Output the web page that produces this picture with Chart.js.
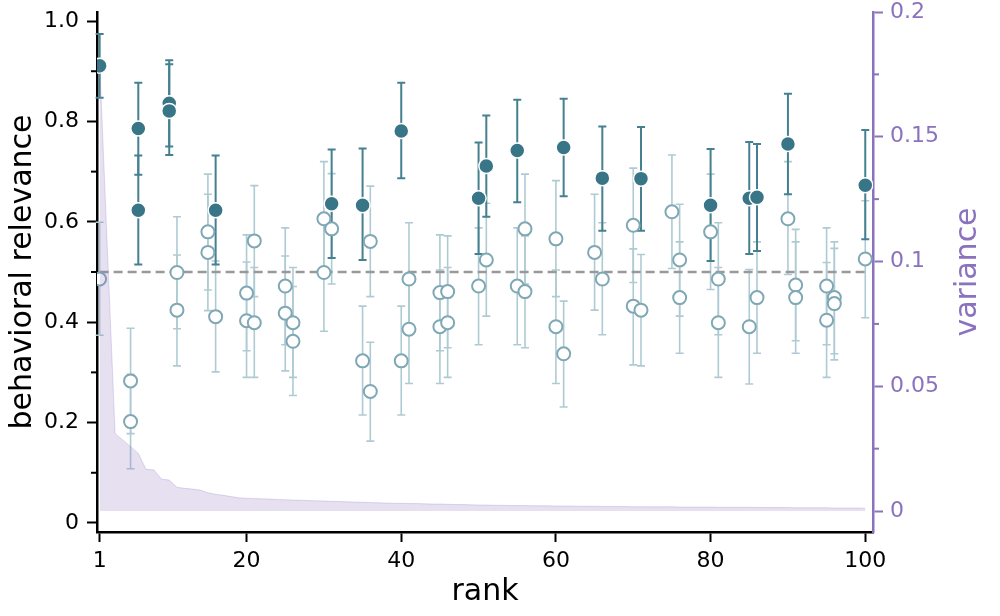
<!DOCTYPE html>
<html>
<head>
<meta charset="utf-8">
<script src="https://cdn.jsdelivr.net/npm/chart.js@4.4.1/dist/chart.umd.min.js"></script>
<style>
  html, body { margin: 0; padding: 0; background: #fff; }
  #wrap { width: 1000px; height: 616px; }
</style>
</head>
<body>
<div id="wrap"><canvas id="relevanceChart" width="1000" height="616"></canvas></div>
<script>
// components with high relevance (filled markers)
const filledRank = [1, 6, 6, 10, 10, 16, 31, 35, 40, 50, 51, 55, 61, 66, 71, 80, 85, 86, 90, 100];
const filledValue = [0.911, 0.786, 0.623, 0.836, 0.821, 0.623, 0.636, 0.633, 0.781, 0.647, 0.711, 0.742, 0.748, 0.687, 0.686, 0.633, 0.647, 0.649, 0.755, 0.673];
const filledLow = [0.847, 0.694, 0.515, 0.750, 0.733, 0.515, 0.528, 0.524, 0.687, 0.536, 0.610, 0.639, 0.651, 0.582, 0.582, 0.522, 0.536, 0.542, 0.655, 0.565];
const filledHigh = [0.974, 0.877, 0.732, 0.922, 0.914, 0.732, 0.744, 0.746, 0.877, 0.758, 0.812, 0.843, 0.845, 0.790, 0.789, 0.745, 0.759, 0.755, 0.855, 0.783];

// the rest (hollow markers)
const hollowRank = [1, 5, 5, 11, 11, 15, 15, 16, 20, 20, 21, 21, 25, 25, 26, 26, 30, 30, 31, 35, 36, 36, 40, 41, 41, 45, 45, 46, 46, 50, 51, 55, 56, 56, 60, 60, 61, 65, 66, 70, 70, 71, 75, 76, 76, 80, 81, 81, 85, 86, 90, 91, 91, 95, 95, 96, 96, 100];
const hollowValue = [0.486, 0.283, 0.202, 0.499, 0.424, 0.580, 0.539, 0.411, 0.458, 0.403, 0.562, 0.399, 0.472, 0.418, 0.399, 0.362, 0.606, 0.499, 0.586, 0.323, 0.561, 0.262, 0.323, 0.486, 0.386, 0.459, 0.391, 0.461, 0.399, 0.472, 0.524, 0.472, 0.586, 0.461, 0.566, 0.391, 0.337, 0.539, 0.486, 0.593, 0.432, 0.424, 0.620, 0.524, 0.449, 0.580, 0.486, 0.399, 0.391, 0.449, 0.606, 0.474, 0.449, 0.472, 0.404, 0.449, 0.437, 0.526];
const hollowLow = [0.374, 0.178, 0.108, 0.387, 0.313, 0.464, 0.423, 0.301, 0.343, 0.290, 0.451, 0.290, 0.355, 0.303, 0.290, 0.254, 0.492, 0.382, 0.476, 0.215, 0.451, 0.163, 0.215, 0.375, 0.278, 0.343, 0.278, 0.349, 0.290, 0.355, 0.412, 0.355, 0.476, 0.349, 0.451, 0.278, 0.231, 0.424, 0.375, 0.479, 0.315, 0.313, 0.507, 0.412, 0.338, 0.465, 0.375, 0.290, 0.277, 0.338, 0.495, 0.363, 0.338, 0.355, 0.290, 0.337, 0.325, 0.409];
const hollowHigh = [0.599, 0.388, 0.296, 0.610, 0.534, 0.695, 0.655, 0.522, 0.574, 0.520, 0.672, 0.509, 0.588, 0.532, 0.509, 0.471, 0.720, 0.615, 0.696, 0.432, 0.671, 0.360, 0.432, 0.598, 0.494, 0.574, 0.504, 0.572, 0.509, 0.588, 0.637, 0.588, 0.695, 0.572, 0.682, 0.504, 0.442, 0.655, 0.598, 0.707, 0.546, 0.535, 0.733, 0.635, 0.560, 0.695, 0.598, 0.509, 0.505, 0.560, 0.720, 0.585, 0.560, 0.588, 0.519, 0.560, 0.547, 0.642];

// variance per rank 1..100 (right axis)
const varianceValues = [
  0.180, 0.105, 0.031, 0.0285, 0.0258, 0.0231, 0.0167, 0.0165, 0.0128, 0.0124,
  0.0095, 0.0091, 0.0088, 0.0084, 0.0073, 0.0067, 0.0063, 0.0058, 0.0053, 0.0051,
  0.0050, 0.0049, 0.0048, 0.0046, 0.0045, 0.0044, 0.0043, 0.0042, 0.0041, 0.0040,
  0.0039, 0.0038, 0.0037, 0.0036, 0.0035, 0.0034, 0.0033, 0.0032, 0.0031, 0.0031,
  0.0030, 0.0030, 0.0029, 0.0028, 0.0028, 0.0027, 0.0026, 0.0026, 0.0025, 0.0024,
  0.0024, 0.0023, 0.0023, 0.0022, 0.0022, 0.0022, 0.0021, 0.0021, 0.0021, 0.0020,
  0.0020, 0.0020, 0.0019, 0.0019, 0.0019, 0.0018, 0.0018, 0.0018, 0.0018, 0.0017,
  0.0017, 0.0017, 0.0017, 0.0017, 0.0017, 0.0016, 0.0016, 0.0016, 0.0016, 0.0016,
  0.0015, 0.0015, 0.0015, 0.0015, 0.0015, 0.0014, 0.0014, 0.0014, 0.0014, 0.0014,
  0.0013, 0.0013, 0.0013, 0.0013, 0.0013, 0.0012, 0.0012, 0.0012, 0.0012, 0.0011
];

const chanceLevel = 0.5;
const chanceRange = [1, 100];

const xTicks = [1, 20, 40, 60, 80, 100];
const yTicks = [0, 0.2, 0.4, 0.6, 0.8, 1.0];
const yTickLabels = ["0", "0.2", "0.4", "0.6", "0.8", "1.0"];
const yMinorTicks = [0.1, 0.3, 0.5, 0.7, 0.9];
const y2Ticks = [0, 0.05, 0.1, 0.15, 0.2];
const y2TickLabels = ["0", "0.05", "0.1", "0.15", "0.2"];
const y2MinorTicks = [0.025, 0.075, 0.125, 0.175];

const FONT = "DejaVu Sans";
const PURPLE = "#8b72be";
const DARK = "#387586";
const LIGHT = "#7fa8b4";

Chart.defaults.font.family = FONT;

function zeroPadding(scale) {
  scale.paddingTop = 0;
  scale.paddingBottom = 0;
  scale.paddingLeft = 0;
  scale.paddingRight = 0;
}

const errorBars = {
  id: "errorBars",
  beforeDatasetsDraw(chart) {
    const { ctx, scales } = chart;
    const x = scales.x, y = scales.y;
    const draw = (ranks, lows, highs, color, width, cap) => {
      ctx.strokeStyle = color;
      ctx.lineWidth = width;
      ranks.forEach((r, i) => {
        const px = x.getPixelForValue(r);
        const lo = y.getPixelForValue(lows[i]);
        const hi = y.getPixelForValue(highs[i]);
        ctx.beginPath();
        ctx.moveTo(px, lo); ctx.lineTo(px, hi);
        ctx.moveTo(px - cap, lo); ctx.lineTo(px + cap, lo);
        ctx.moveTo(px - cap, hi); ctx.lineTo(px + cap, hi);
        ctx.stroke();
      });
    };
    ctx.save();
    draw(hollowRank, hollowLow, hollowHigh, "#aecbd3", 1.6, 4);
    draw(filledRank, filledLow, filledHigh, "#44808f", 2, 4);
    ctx.restore();
  }
};

const extras = {
  id: "extras",
  afterDraw(chart) {
    const { ctx, chartArea, scales } = chart;
    ctx.save();
    ctx.lineWidth = 2;
    ctx.strokeStyle = "#000";
    yMinorTicks.forEach(v => {
      const py = scales.y.getPixelForValue(v);
      ctx.beginPath(); ctx.moveTo(chartArea.left - 6, py); ctx.lineTo(chartArea.left, py); ctx.stroke();
    });
    ctx.strokeStyle = PURPLE;
    y2MinorTicks.forEach(v => {
      const py = scales.y2.getPixelForValue(v);
      ctx.beginPath(); ctx.moveTo(chartArea.right, py); ctx.lineTo(chartArea.right + 6, py); ctx.stroke();
    });
    // right axis title, reading bottom to top
    ctx.translate(968, (chartArea.top + chartArea.bottom) / 2);
    ctx.rotate(-Math.PI / 2);
    ctx.fillStyle = PURPLE;
    ctx.font = "30px '" + FONT + "'";
    ctx.textAlign = "center";
    ctx.textBaseline = "middle";
    ctx.fillText("variance", 0, 0);
    ctx.restore();
  }
};

new Chart(document.getElementById("relevanceChart"), {
  type: "scatter",
  data: {
    datasets: [
      {
        type: "line",
        label: "variance",
        data: varianceValues.map((v, i) => ({ x: i + 1, y: v })),
        yAxisID: "y2",
        fill: "origin",
        backgroundColor: "rgba(139,114,190,0.22)",
        borderColor: "rgba(139,114,190,0.25)",
        borderWidth: 1,
        pointRadius: 0,
        tension: 0,
        order: 0
      },
      {
        label: "relevant",
        data: filledRank.map((r, i) => ({ x: r, y: filledValue[i] })),
        yAxisID: "y",
        pointRadius: 7.5,
        backgroundColor: DARK,
        borderColor: "#ffffff",
        borderWidth: 1.5,
        order: 1
      },
      {
        label: "other",
        data: hollowRank.map((r, i) => ({ x: r, y: hollowValue[i] })),
        yAxisID: "y",
        pointRadius: 6.5,
        backgroundColor: "#ffffff",
        borderColor: LIGHT,
        borderWidth: 2,
        order: 2
      },
      {
        type: "line",
        label: "chance",
        data: chanceRange.map(r => ({ x: r, y: chanceLevel })),
        yAxisID: "y",
        borderColor: "#999999",
        borderWidth: 2.5,
        borderDash: [9, 5],
        pointRadius: 0,
        fill: false,
        order: 3
      }
    ]
  },
  options: {
    responsive: false,
    animation: false,
    layout: { padding: { top: 12, left: 0, right: 0, bottom: 0 } },
    plugins: {
      legend: { display: false },
      tooltip: { enabled: false }
    },
    scales: {
      x: {
        type: "linear",
        position: "bottom",
        min: 0.66,
        max: 101.0,
        afterBuildTicks: s => { s.ticks = xTicks.map(v => ({ value: v })); },
        afterFit: s => { s.height = 84; zeroPadding(s); },
        ticks: { color: "#000", font: { size: 22 }, padding: 6, maxRotation: 0, callback: v => String(v) },
        grid: { drawOnChartArea: false, tickLength: 10, tickWidth: 2, tickColor: "#000" },
        border: { display: true, color: "#000", width: 2.5 },
        title: { display: true, text: "rank", color: "#000", font: { size: 30 }, padding: { top: 0, bottom: 6 } }
      },
      y: {
        type: "linear",
        position: "left",
        min: -0.018,
        max: 1.018,
        afterBuildTicks: s => { s.ticks = yTicks.map(v => ({ value: v })); },
        afterFit: s => { s.width = 97; zeroPadding(s); },
        ticks: { color: "#000", font: { size: 22 }, padding: 8, callback: v => yTickLabels[yTicks.indexOf(v)] },
        grid: { drawOnChartArea: false, tickLength: 10, tickWidth: 2, tickColor: "#000" },
        border: { display: true, color: "#000", width: 2.5 },
        title: { display: true, text: "behavioral relevance", color: "#000", font: { size: 30 }, padding: { top: 5, bottom: 0 } }
      },
      y2: {
        type: "linear",
        position: "right",
        min: -0.0084,
        max: 0.2,
        afterBuildTicks: s => { s.ticks = y2Ticks.map(v => ({ value: v })); },
        afterFit: s => { s.width = 127; zeroPadding(s); },
        ticks: { color: PURPLE, font: { size: 22 }, padding: 7, callback: v => y2TickLabels[y2Ticks.indexOf(v)] },
        grid: { drawOnChartArea: false, tickLength: 10, tickWidth: 2, tickColor: PURPLE },
        border: { display: true, color: PURPLE, width: 2.5 }
      }
    }
  },
  plugins: [errorBars, extras]
});
</script>
</body>
</html>
